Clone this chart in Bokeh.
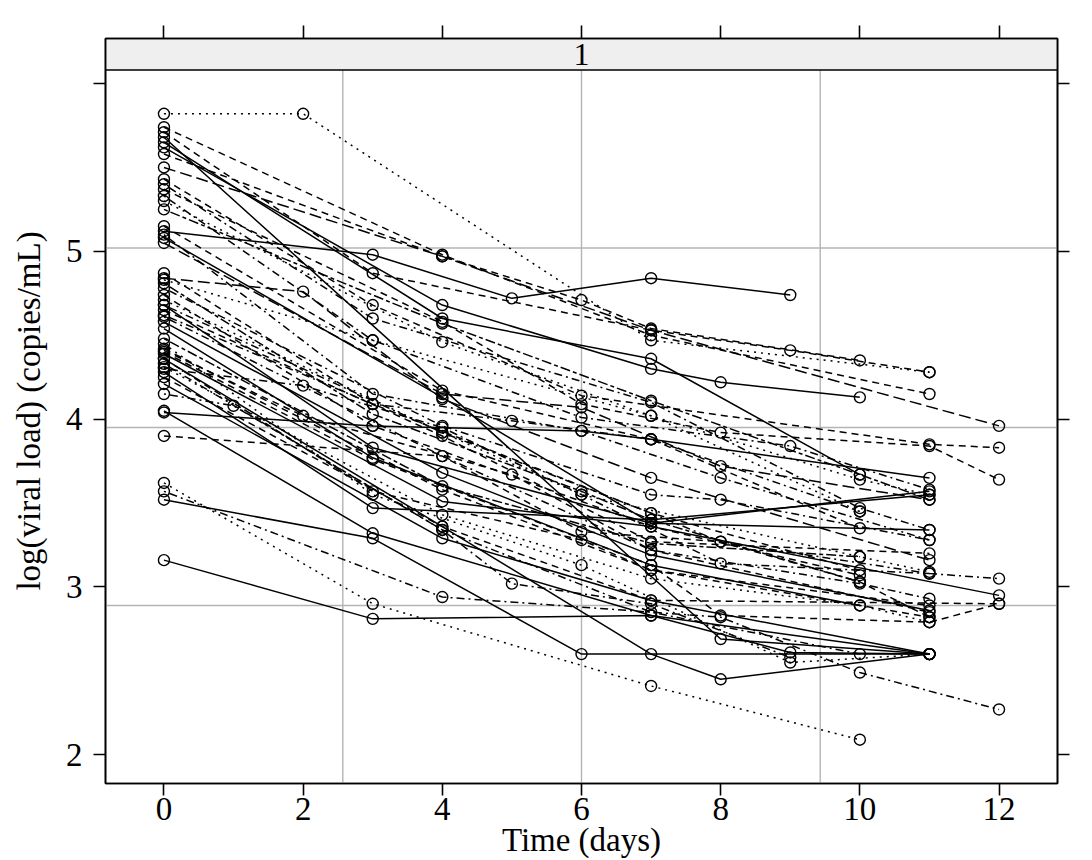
from bokeh.plotting import figure
from bokeh.models import Range1d, FixedTicker, LinearAxis, Span
from bokeh.core.properties import value
from bokeh.embed import file_html
from bokeh.resources import INLINE

# ---------------- data ----------------
subject_days = [
    [0, 2, 7, 11], [0, 4, 7, 11], [0, 3, 7, 9, 11], [0, 8, 11], [0, 4, 7, 10],
    [0, 4, 7, 8, 10], [0, 4, 7, 12], [0, 3, 6, 11, 12], [0, 3, 7, 10, 11], [0, 4, 6, 8, 11, 12],
    [0, 3, 6, 9, 11], [0, 4, 7, 10], [0, 3, 5, 7, 9], [0, 4, 7, 10], [0, 3, 6, 8, 11],
    [0, 4, 7, 11], [0, 3, 7, 10], [0, 2, 4, 7, 11], [0, 3, 6, 7, 10], [0, 4, 7, 8, 11],
    [0, 3, 7, 10], [0, 4, 6, 10, 11], [0, 3, 7, 11], [0, 4, 7, 11], [0, 4, 7, 10, 11],
    [0, 4, 7, 11], [0, 3, 7, 10], [0, 4, 7, 11], [0, 4, 7, 12], [0, 3, 6, 7, 11],
    [0, 4, 7, 10, 11], [0, 3, 7, 11], [0, 4, 7, 12], [0, 4, 7, 11], [0, 1, 4, 7, 10],
    [0, 3, 7, 9, 11], [0, 3, 6, 7, 11], [0, 2, 4, 6, 8, 11], [0, 4, 6, 8, 10, 11], [0, 3, 7, 10],
    [0, 4, 8, 10, 12], [0, 3, 6, 11], [0, 4, 7, 8, 11], [0, 3, 7, 11], [0, 2, 5, 7, 11],
    [0, 3, 5, 7, 10], [0, 4, 5, 7, 9], [0, 3, 6, 9, 11], [0, 4, 7, 8, 11, 12], [0, 3, 7, 8, 11, 12],
    [0, 4, 6, 8, 11], [0, 3, 7, 10, 11], [0, 4, 7, 10], [0, 4, 7, 10, 11], [0, 4, 6, 7, 10],
]
subject_logvl = [
    [5.82, 5.82, 4.47, 4.28], [5.74, 4.98, 4.50, 4.15], [5.71, 4.87, 4.53, 4.41, 4.28], [5.68, 2.69, 2.60], [5.65, 4.60, 4.36, 3.67],
    [5.62, 4.68, 4.30, 4.22, 4.13], [5.50, 4.97, 4.53, 3.96], [5.43, 4.68, 4.14, 3.85, 3.83], [5.40, 4.60, 4.10, 3.47, 3.34], [5.37, 4.58, 4.09, 3.92, 3.84, 3.64],
    [5.33, 4.47, 4.01, 3.84, 3.58], [5.30, 4.46, 4.02, 3.45], [5.12, 4.98, 4.72, 4.84, 4.74], [5.15, 4.17, 3.88, 3.35], [5.10, 4.15, 3.93, 3.65, 3.28],
    [5.08, 4.13, 3.38, 3.57], [4.87, 4.09, 3.44, 3.10], [4.84, 4.76, 4.12, 3.65, 3.16], [4.81, 4.03, 3.57, 3.40, 3.03], [4.78, 3.96, 3.55, 3.52, 3.28],
    [4.74, 3.96, 3.36, 3.07], [4.71, 3.92, 3.55, 3.18, 3.09], [4.68, 3.83, 3.38, 3.34], [4.65, 3.90, 3.27, 3.20], [4.61, 3.78, 3.22, 3.02, 2.93],
    [4.58, 3.68, 3.19, 2.86], [4.54, 3.77, 3.13, 2.89], [4.42, 3.58, 3.10, 2.89], [4.39, 3.51, 3.36, 2.95], [4.36, 3.57, 3.28, 3.10, 2.82],
    [4.31, 3.43, 3.05, 2.89, 2.79], [4.28, 3.47, 3.40, 3.55], [4.25, 3.36, 2.92, 2.90], [4.21, 3.29, 2.92, 2.60], [4.15, 4.08, 3.34, 2.85, 2.60],
    [4.05, 3.32, 2.83, 2.61, 2.60], [4.04, 3.96, 3.93, 3.88, 3.65], [4.30, 4.20, 3.95, 3.55, 3.14, 3.08], [3.90, 3.78, 3.33, 3.27, 3.03, 2.82], [3.62, 2.90, 2.41, 2.09],
    [3.57, 2.94, 2.82, 2.49, 2.27], [3.52, 3.29, 2.60, 2.60], [4.36, 3.36, 2.60, 2.45, 2.60], [3.16, 2.81, 2.83, 2.60], [4.41, 4.02, 3.67, 3.22, 2.85],
    [4.62, 4.09, 3.99, 3.88, 3.45], [4.33, 3.34, 3.02, 2.90, 2.58], [4.45, 3.55, 3.13, 2.55, 2.60], [4.68, 3.92, 3.44, 3.27, 3.08, 3.05], [4.40, 3.76, 3.13, 2.83, 2.79, 2.90],
    [5.05, 4.15, 4.07, 3.72, 3.52], [4.83, 4.47, 4.02, 3.64, 3.55], [4.48, 3.60, 3.26, 3.18], [5.25, 4.57, 4.11, 3.67, 3.52], [5.58, 4.97, 4.71, 4.54, 4.35],
]
# line type per subject: 0 solid, 1 dashed, 2 dotted, 3 dotdash, 4 longdash, 5 twodash
subject_lty = [
    2, 1, 1, 0, 0, 0, 4, 1, 3, 1,
    3, 2, 0, 1, 3, 0, 1, 4, 5, 3,
    1, 2, 0, 1, 3, 0, 0, 1, 0, 1,
    2, 0, 1, 0, 3, 0, 0, 3, 1, 2,
    3, 0, 0, 0, 1, 3, 3, 2, 3, 1,
    4, 2, 5, 5, 1,
]
x_ticks = [0, 2, 4, 6, 8, 10, 12]
y_ticks = [2, 3, 4, 5, 6]
ref_h = [5.02, 3.95, 2.89]
ref_v = [2.57, 6.0, 9.43]
strip_label = "1"
x_title = "Time (days)"
y_title = "log(viral load) (copies/mL)"

# ---------------- layout ----------------
FONT = "Liberation Serif"
dash_map = {0: "solid", 1: "7 5", 2: "2 5", 3: "2 4 8 4", 4: "12 5", 5: "4 3 10 3"}

W, H = 1076, 860
B_LEFT, B_RIGHT, B_TOP, B_BOTTOM = 105, 19, 38, 76
STRIP_PX = 31.5

all_x = [d for ds in subject_days for d in ds]
all_y = [v for vs in subject_logvl for v in vs]
xr = max(all_x) - min(all_x)
yr = max(all_y) - min(all_y)
x_lo, x_hi = min(all_x) - 0.07 * xr, max(all_x) + 0.07 * xr
y_lo, y_top = min(all_y) - 0.07 * yr, max(all_y) + 0.07 * yr
frame_h = H - B_TOP - B_BOTTOM
strip_h = (y_top - y_lo) * STRIP_PX / (frame_h - STRIP_PX)
y_hi = y_top + strip_h

p = figure(width=W, height=H, output_backend="svg", toolbar_location=None,
           x_range=Range1d(x_lo, x_hi), y_range=Range1d(y_lo, y_hi),
           min_border_left=B_LEFT, min_border_right=B_RIGHT,
           min_border_top=B_TOP, min_border_bottom=B_BOTTOM,
           background_fill_color="white", border_fill_color="white")
p.grid.visible = False
p.outline_line_color = "black"
p.outline_line_width = 1.6

for loc in ref_h:
    p.add_layout(Span(location=loc, dimension="width", line_color="#b4b4b4", line_width=1.4, level="underlay"))
for loc in ref_v:
    p.add_layout(Span(location=loc, dimension="height", line_color="#b4b4b4", line_width=1.4, level="underlay"))

# strip
p.quad(left=[x_lo], right=[x_hi], bottom=[y_top], top=[y_hi], fill_color="#efefef",
       line_color="black", line_width=1.4)
p.text(x=[(x_lo + x_hi) / 2], y=[y_top + strip_h / 2], text=[strip_label],
       text_font=value(FONT), text_font_size="32px", text_align="center",
       text_baseline="middle", text_color="black")

for ds, vs, lt in zip(subject_days, subject_logvl, subject_lty):
    p.line(ds, vs, line_color="black", line_width=1.5, line_dash=dash_map[lt])
p.scatter(all_x, all_y, marker="circle", size=11, fill_color=None, line_color="black", line_width=1.4)

def style_axis(ax, ticks, show_labels, overrides=None):
    ax.ticker = FixedTicker(ticks=ticks)
    ax.minor_tick_line_color = None
    ax.axis_line_color = "black"
    ax.axis_line_width = 1.6
    ax.major_tick_line_color = "black"
    ax.major_tick_line_width = 1.6
    ax.major_tick_out = 12
    ax.major_tick_in = 0
    ax.major_label_text_font = FONT
    ax.major_label_text_color = "black"
    if show_labels:
        ax.major_label_text_font_size = "33px"
        if overrides:
            ax.major_label_overrides = overrides
    else:
        ax.major_label_text_font_size = "1px"
        ax.major_label_text_alpha = 0
        ax.major_label_standoff = 0

xb = p.xaxis[0]
style_axis(xb, x_ticks, True)
xb.major_label_standoff = 2
xb.axis_label = x_title
xb.axis_label_text_font = FONT
xb.axis_label_text_font_size = "33px"
xb.axis_label_text_font_style = "normal"
xb.axis_label_text_color = "black"
xb.axis_label_standoff = -1

yl = p.yaxis[0]
style_axis(yl, y_ticks, True, {6: ""})
yl.major_label_standoff = 11
yl.axis_label = y_title
yl.axis_label_text_font = FONT
yl.axis_label_text_font_size = "33px"
yl.axis_label_text_font_style = "normal"
yl.axis_label_text_color = "black"
yl.axis_label_standoff = 16

xt = LinearAxis()
style_axis(xt, x_ticks, False)
xt.major_tick_out = 13
p.add_layout(xt, "above")

yr_ax = LinearAxis()
style_axis(yr_ax, y_ticks, False)
p.add_layout(yr_ax, "right")

open("out.html", "w").write(file_html(p, INLINE))
